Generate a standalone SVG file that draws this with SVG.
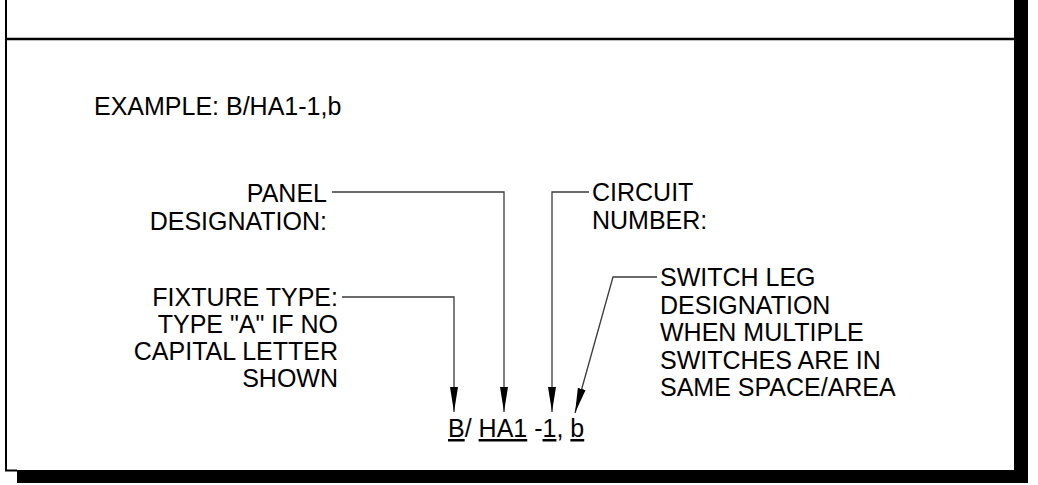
<svg xmlns="http://www.w3.org/2000/svg" width="1038" height="485" viewBox="0 0 1038 485">
<style>
  .t { font-family: "Liberation Sans", Arial, sans-serif; font-size: 25px; fill: #000; }
  .r { text-anchor: end; }
  .c { fill: none; stroke: #3a3a3a; stroke-width: 1.3; }
  .u { text-decoration: underline; }
</style>
<defs>
  <marker id="ah" markerUnits="userSpaceOnUse" markerWidth="26" markerHeight="9" refX="25" refY="4.5" orient="auto">
    <path d="M0,0.5 L25,4.5 L0,8.5 z" fill="#000"/>
  </marker>
</defs>
<rect width="1038" height="485" fill="#fff"/>
<g id="frame">
  <rect x="1014" y="0" width="14" height="483" fill="#000"/>
  <rect x="17" y="470" width="1011" height="13" fill="#000"/>
  <line x1="6" y1="0" x2="6" y2="471" stroke="#000" stroke-width="2"/>
  <line x1="5" y1="470.5" x2="17" y2="470.5" stroke="#000" stroke-width="2"/>
  <line x1="6" y1="39" x2="1014" y2="39" stroke="#000" stroke-width="2.5"/>
</g>
<g id="connectors">
  <polyline class="c" points="332,192 504,192 504,412" marker-end="url(#ah)"/>
  <polyline class="c" points="589,192 552,192 552,412" marker-end="url(#ah)"/>
  <polyline class="c" points="342,297 454,297 454,412" marker-end="url(#ah)"/>
  <polyline class="c" points="657,277 613,277 575,413" marker-end="url(#ah)"/>
</g>
<g id="example">
  <text class="t" x="94" y="115">EXAMPLE: B/HA1-1,b</text>
</g>
<g id="panel">
  <text class="t r" x="327" y="202">PANEL</text>
  <text class="t r" x="327" y="230">DESIGNATION:</text>
</g>
<g id="circuit">
  <text class="t" x="592" y="201">CIRCUIT</text>
  <text class="t" x="592" y="229">NUMBER:</text>
</g>
<g id="fixture">
  <text class="t r" x="338" y="306">FIXTURE TYPE:</text>
  <text class="t r" x="338" y="333">TYPE "A" IF NO</text>
  <text class="t r" x="338" y="360">CAPITAL LETTER</text>
  <text class="t r" x="338" y="387">SHOWN</text>
</g>
<g id="switch">
  <text class="t" x="660" y="286">SWITCH LEG</text>
  <text class="t" x="660" y="313.5">DESIGNATION</text>
  <text class="t" x="660" y="341">WHEN MULTIPLE</text>
  <text class="t" x="660" y="368.5">SWITCHES ARE IN</text>
  <text class="t" x="660" y="396">SAME SPACE/AREA</text>
</g>
<g id="designation">
  <text class="t" x="448" y="437" xml:space="preserve"><tspan class="u">B</tspan>/ <tspan class="u">HA1</tspan> -<tspan class="u">1</tspan>, <tspan class="u">b</tspan></text>
</g>
</svg>
